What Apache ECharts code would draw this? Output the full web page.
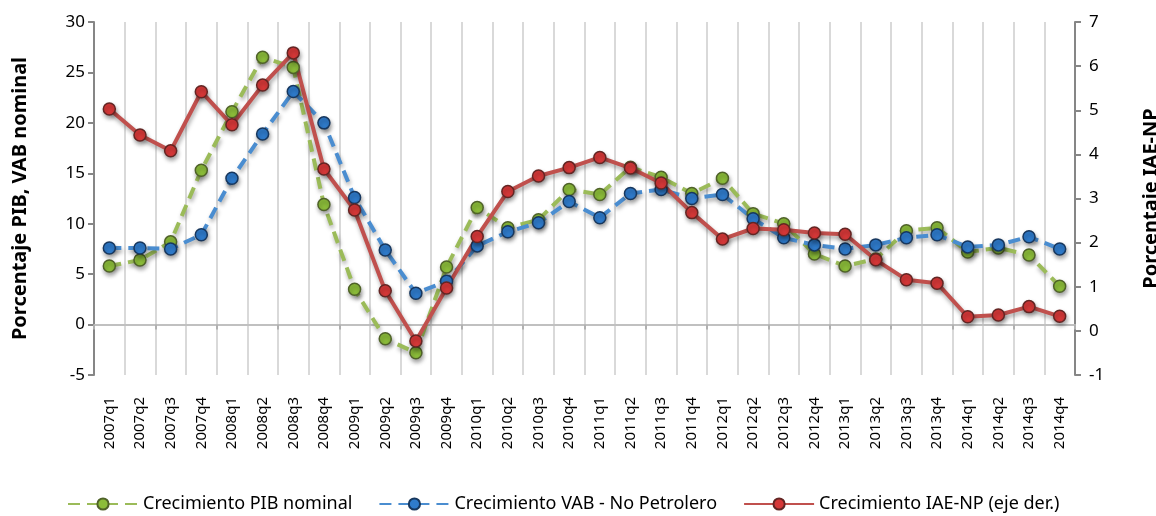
<!DOCTYPE html>
<html>
<head>
<meta charset="utf-8">
<script src="https://cdn.jsdelivr.net/npm/echarts@6/dist/echarts.min.js"></script>
<style>html,body{margin:0;padding:0;background:#fff;}#c{width:1156px;height:516px;}</style>
</head>
<body>
<div id="c"></div>
<script>
const categories = ['2007q1','2007q2','2007q3','2007q4','2008q1','2008q2','2008q3','2008q4',
  '2009q1','2009q2','2009q3','2009q4','2010q1','2010q2','2010q3','2010q4',
  '2011q1','2011q2','2011q3','2011q4','2012q1','2012q2','2012q3','2012q4',
  '2013q1','2013q2','2013q3','2013q4','2014q1','2014q2','2014q3','2014q4'];
const pibNominal = [5.8, 6.4, 8.2, 15.3, 21.1, 26.5, 25.5, 11.9, 3.5, -1.4, -2.8, 5.7,
  11.6, 9.6, 10.4, 13.4, 12.9, 15.6, 14.6, 13.0, 14.5, 11.0, 10.0, 7.0,
  5.8, 6.5, 9.3, 9.6, 7.2, 7.6, 6.9, 3.8];
const vabNoPetrolero = [7.6, 7.6, 7.5, 8.9, 14.5, 18.9, 23.1, 20.0, 12.6, 7.4, 3.1, 4.3,
  7.8, 9.2, 10.1, 12.2, 10.6, 13.0, 13.4, 12.5, 12.9, 10.5, 8.6, 7.9,
  7.5, 7.9, 8.6, 8.9, 7.7, 7.9, 8.7, 7.5];
const iaeNp = [5.03, 4.44, 4.08, 5.42, 4.67, 5.57, 6.30, 3.67, 2.74, 0.91, -0.23, 0.97,
  2.14, 3.16, 3.51, 3.70, 3.93, 3.69, 3.35, 2.68, 2.08, 2.32, 2.29, 2.22,
  2.19, 1.61, 1.16, 1.08, 0.32, 0.36, 0.55, 0.33];
const leftTicks = {min: -5, max: 30, interval: 5};
const rightTicks = {min: -1, max: 7, interval: 1};

const FONT = 'Noto Sans';
const shadow = {shadowColor: 'rgba(0,0,0,0.35)', shadowBlur: 4, shadowOffsetX: 1, shadowOffsetY: 3};

function mkSeries(name, data, yIdx, lineColor, fill, border, dashed) {
  return {
    name: name, type: 'line', data: data, xAxisIndex: 0, yAxisIndex: yIdx,
    symbol: 'circle', symbolSize: 12,
    lineStyle: Object.assign({color: lineColor, width: 4, type: dashed ? [12, 7] : 'solid'}, shadow),
    itemStyle: Object.assign({color: fill, borderColor: border, borderWidth: 1.5}, shadow),
    emphasis: {disabled: true},
    animation: false
  };
}

const chart = echarts.init(document.getElementById('c'));
chart.setOption({
  backgroundColor: '#fff',
  textStyle: {fontFamily: FONT},
  grid: {left: 94, right: 81, top: 22, bottom: 141, containLabel: false, outerBoundsMode: 'none'},
  legend: {
    left: 62, top: 490, itemWidth: 70, itemHeight: 14, itemGap: 26,
    textStyle: {fontFamily: FONT, fontSize: 18, color: '#000'},
    data: ['Crecimiento PIB nominal', 'Crecimiento VAB - No Petrolero', 'Crecimiento IAE-NP (eje der.)']
  },
  xAxis: [{
    type: 'category', data: categories, position: 'bottom',
    axisLine: {show: false, onZero: false}, axisTick: {show: false},
    axisLabel: {rotate: 90, margin: 22, fontFamily: FONT, fontSize: 15, color: '#000'},
    splitLine: {show: true, lineStyle: {color: '#d9d9d9', width: 2}}
  }, {
    type: 'category', data: categories, position: 'top',
    axisLine: {show: true, onZero: true, lineStyle: {color: '#c0c0c0', width: 2}},
    axisTick: {show: true, inside: true, length: 5, lineStyle: {color: '#b0b0b0', width: 2}},
    axisLabel: {show: false}, splitLine: {show: false}
  }],
  yAxis: [{
    type: 'value', position: 'left', min: leftTicks.min, max: leftTicks.max, interval: leftTicks.interval,
    name: 'Porcentaje PIB, VAB nominal', nameLocation: 'middle', nameGap: 64, nameRotate: 90,
    nameTextStyle: {fontFamily: FONT, fontSize: 20, fontWeight: 'bold', color: '#000'},
    axisLine: {show: true, onZero: false, lineStyle: {color: '#868686', width: 2}},
    axisTick: {show: true, length: 6, lineStyle: {color: '#868686', width: 2}},
    axisLabel: {margin: 9, fontFamily: FONT, fontSize: 17, color: '#000'},
    splitLine: {show: false}
  }, {
    type: 'value', position: 'right', min: rightTicks.min, max: rightTicks.max, interval: rightTicks.interval,
    name: 'Porcentaje IAE-NP', nameLocation: 'middle', nameGap: 66, nameRotate: 90,
    nameTextStyle: {fontFamily: FONT, fontSize: 20, fontWeight: 'bold', color: '#000'},
    axisLine: {show: true, onZero: false, lineStyle: {color: '#868686', width: 2}},
    axisTick: {show: true, length: 6, lineStyle: {color: '#868686', width: 2}},
    axisLabel: {margin: 14, fontFamily: FONT, fontSize: 17, color: '#000'},
    splitLine: {show: false}
  }],
  series: [
    mkSeries('Crecimiento PIB nominal', pibNominal, 0, '#9bbb59', '#8cbd3a', '#4f6228', true),
    mkSeries('Crecimiento VAB - No Petrolero', vabNoPetrolero, 0, '#4a8dd0', '#2f7bcb', '#17375e', true),
    mkSeries('Crecimiento IAE-NP (eje der.)', iaeNp, 1, '#c0504d', '#d63838', '#632523', false)
  ]
});
</script>
</body>
</html>
